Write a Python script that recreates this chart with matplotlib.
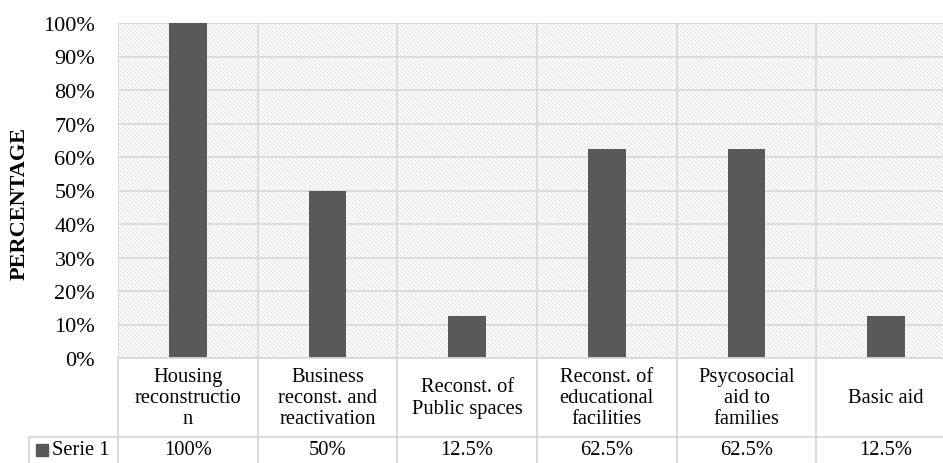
import matplotlib
matplotlib.use("Agg")
import matplotlib.pyplot as plt
from matplotlib.patches import Rectangle
from matplotlib.transforms import blended_transform_factory

# Data
categories = [
    "Housing\nreconstructio\nn",
    "Business\nreconst. and\nreactivation",
    "Reconst. of\nPublic spaces",
    "Reconst. of\neducational\nfacilities",
    "Psycosocial\naid to\nfamilies",
    "Basic aid",
]
series_name = "Serie 1"
values = [1.0, 0.5, 0.125, 0.625, 0.625, 0.125]
y_ticks = [0, 0.1, 0.2, 0.3, 0.4, 0.5, 0.6, 0.7, 0.8, 0.9, 1.0]

SERIF = ["Liberation Serif", "DejaVu Serif"]
plt.rcParams["font.family"] = SERIF
plt.rcParams["hatch.linewidth"] = 0.6

W, H = 943, 464
fig = plt.figure(figsize=(W / 100, H / 100), dpi=100)

# plot area in pixels
px_left, px_top, px_bottom = 118, 24, 359
col_w = 139.67
n = len(categories)
px_right = px_left + n * col_w
ax = fig.add_axes([px_left / W, (H - px_bottom) / H,
                   (px_right - px_left) / W, (px_bottom - px_top) / H])
ax.set_xlim(-0.5, n - 0.5)
ax.set_ylim(0, 1)

grid_c = "#d9d9d9"
bar_c = "#595959"

# hatched plot-area background
bg = Rectangle((0, 0), 1, 1, transform=ax.transAxes, facecolor="white",
               edgecolor="#dadada", hatch="\\" * 8, linewidth=0, zorder=0)
ax.add_patch(bg)

# gridlines
for yv in y_ticks:
    ax.axhline(yv, color=grid_c, lw=1.3, zorder=1)
for i in range(n + 1):
    ax.axvline(i - 0.5, color=grid_c, lw=1.3, zorder=1)

x = list(range(n))
ax.bar(x, values, width=0.27, color=bar_c, zorder=2)

for s in ax.spines.values():
    s.set_visible(False)
ax.set_xticks([])
ax.set_yticks(y_ticks)
ax.set_yticklabels([f"{t*100:.0f}%" for t in y_ticks], fontsize=16)
ax.tick_params(axis="y", length=0, pad=16.5)

# data table under the axes
tr = blended_transform_factory(ax.transData, ax.transAxes)
ph = px_bottom - px_top
def ya(py):
    return (px_bottom - py) / ph

ax.set_ylabel("PERCENTAGE", fontsize=16, fontweight="bold")
ax.yaxis.set_label_coords(-(px_left - 30) / (px_right - px_left), ya(204))

hdr_bottom = ya(438)
tbl_bottom = ya(480)
leg_left = -0.5 + (29 - px_left) / col_w

line_kw = dict(color=grid_c, lw=1.3, clip_on=False, transform=tr)
ax.plot([-0.5, n], [0, 0], **line_kw)
ax.plot([leg_left, n], [hdr_bottom, hdr_bottom], **line_kw)
for i in range(n + 1):
    ax.plot([i - 0.5, i - 0.5], [0, tbl_bottom], **line_kw)
ax.plot([leg_left, leg_left], [hdr_bottom, tbl_bottom], **line_kw)

fs = 14.8
hdr_mid = ya(398.5)
row_mid = ya(451)
for i, (cat, v) in enumerate(zip(categories, values)):
    ax.text(i, hdr_mid, cat, transform=tr, ha="center", va="center",
            fontsize=fs, linespacing=1.15, clip_on=False, family=SERIF)
    ax.text(i, row_mid, f"{v*100:g}%", transform=tr, ha="center",
            va="center", fontsize=fs, clip_on=False, family=SERIF)

# legend key in the data-table row
key_x = -0.5 + (42 - px_left) / col_w
ax.plot([key_x], [row_mid], marker="s", markersize=8.5, color=bar_c,
        transform=tr, clip_on=False, linestyle="none")
ax.text(-0.5 + (52 - px_left) / col_w, row_mid, series_name, transform=tr,
        ha="left", va="center", fontsize=fs, clip_on=False, family=SERIF)

fig.savefig("out.png", dpi=100)
